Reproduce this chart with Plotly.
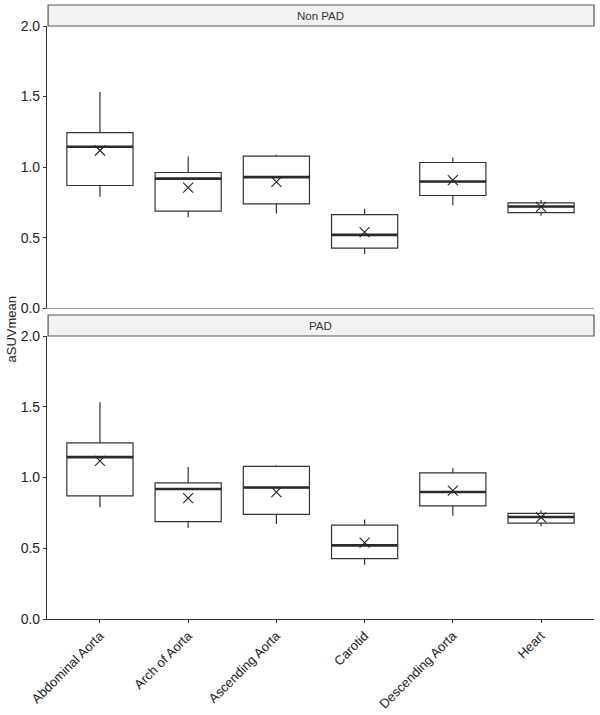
import plotly.graph_objects as go

categories = ["Abdominal Aorta", "Arch of Aorta", "Ascending Aorta", "Carotid", "Descending Aorta", "Heart"]
panels = ["Non PAD", "PAD"]

# Non PAD
np_lower = [0.79, 0.645, 0.671, 0.383, 0.730, 0.655]
np_q1 = [0.870, 0.688, 0.740, 0.426, 0.799, 0.678]
np_median = [1.144, 0.919, 0.929, 0.520, 0.898, 0.721]
np_q3 = [1.245, 0.962, 1.078, 0.664, 1.033, 0.747]
np_upper = [1.532, 1.075, 1.087, 0.704, 1.068, 0.768]
np_mean = [1.118, 0.855, 0.896, 0.539, 0.908, 0.718]

# PAD
pad_lower = [0.79, 0.645, 0.671, 0.383, 0.730, 0.655]
pad_q1 = [0.870, 0.688, 0.740, 0.426, 0.799, 0.678]
pad_median = [1.144, 0.919, 0.929, 0.520, 0.898, 0.721]
pad_q3 = [1.245, 0.962, 1.078, 0.664, 1.033, 0.747]
pad_upper = [1.532, 1.075, 1.087, 0.704, 1.068, 0.768]
pad_mean = [1.118, 0.855, 0.896, 0.539, 0.908, 0.718]

y_ticks = [0.0, 0.5, 1.0, 1.5, 2.0]
y_ticktext = ["0.0", "0.5", "1.0", "1.5", "2.0"]

BOXW = 0.75
LINE = "#333333"
FONT = "Liberation Sans, Arial, sans-serif"

data = [
    (np_lower, np_q1, np_median, np_q3, np_upper, np_mean),
    (pad_lower, pad_q1, pad_median, pad_q3, pad_upper, pad_mean),
]

fig = go.Figure()
xs = list(range(len(categories)))
for k, (lo, q1, med, q3, up, mn) in enumerate(data):
    xa = "x" if k == 0 else "x2"
    ya = "y" if k == 0 else "y2"
    fig.add_trace(go.Box(
        x=xs, q1=q1, median=med, q3=q3, lowerfence=lo, upperfence=up,
        width=BOXW, whiskerwidth=0, fillcolor="white",
        line=dict(color=LINE, width=1.2), xaxis=xa, yaxis=ya,
        showlegend=False, hoverinfo="skip",
    ))
    mx, my = [], []
    for i, m in enumerate(med):
        mx += [i - BOXW / 2, i + BOXW / 2, None]
        my += [m, m, None]
    fig.add_trace(go.Scatter(
        x=mx, y=my, mode="lines", line=dict(color="#2b2b2b", width=2.6),
        xaxis=xa, yaxis=ya, showlegend=False, hoverinfo="skip",
    ))
    fig.add_trace(go.Scatter(
        x=xs, y=mn, mode="markers",
        marker=dict(symbol="x-thin-open", size=10, color="#222222",
                    line=dict(color="#222222", width=1.1)),
        xaxis=xa, yaxis=ya, showlegend=False, hoverinfo="skip",
    ))

# pixel layout: top margin 5, bottom margin 96, plot height 614
H_T, H_B = 5, 96
PH = 715 - H_T - H_B
def py(p):
    return (715 - H_B - p) / PH

top_dom = [py(308.3), py(26)]
bot_dom = [0, py(336)]

yax = dict(range=[0, 2], tickvals=y_ticks, ticktext=y_ticktext, showgrid=False,
           zeroline=False, showline=True, linecolor=LINE, linewidth=1.2,
           ticks="outside", ticklen=3, tickcolor=LINE, tickwidth=1, automargin=False,
           tickfont=dict(family=FONT, size=14, color="#222222"))
xax = dict(range=[-0.6, 5.6], tickvals=xs, ticktext=categories, showgrid=False,
           zeroline=False, showline=True, linewidth=1.2, automargin=False,
           tickfont=dict(family=FONT, size=13, color="#222222"))

fig.update_layout(
    width=600, height=715,
    margin=dict(l=47, r=6, t=H_T, b=H_B),
    paper_bgcolor="white", plot_bgcolor="white",
    font=dict(family=FONT),
    xaxis=dict(xax, domain=[0, 1], anchor="y", showticklabels=False, ticks="",
               linecolor="#9a9a9a"),
    yaxis=dict(yax, domain=top_dom, anchor="x"),
    xaxis2=dict(xax, domain=[0, 1], anchor="y2", ticks="outside", ticklen=3,
                tickcolor=LINE, linecolor=LINE, tickangle=-45),
    yaxis2=dict(yax, domain=bot_dom, anchor="x2"),
)

strips = [(py(5), py(26), panels[0]), (py(315), py(336), panels[1])]
for y1, y0, label in strips:
    fig.add_shape(type="rect", xref="paper", yref="paper", x0=0.002, x1=1.0, y0=y0, y1=y1,
                  fillcolor="#f2f2f2", line=dict(color="#555555", width=1.2), layer="below")
    fig.add_annotation(text=label, xref="paper", yref="paper", x=0.5, y=(y0 + y1) / 2,
                       showarrow=False, font=dict(family=FONT, size=11.5, color="#333333"),
                       xanchor="center", yanchor="middle")

fig.add_annotation(text="aSUVmean", xref="paper", yref="paper", x=-47 / 547, y=py(330),
                   xanchor="left", yanchor="middle", showarrow=False, textangle=-90,
                   xshift=1, font=dict(family=FONT, size=13, color="#222222"))

fig.write_html("out.html", config={"displayModeBar": False},
               post_script="document.body.style.margin='0';")
